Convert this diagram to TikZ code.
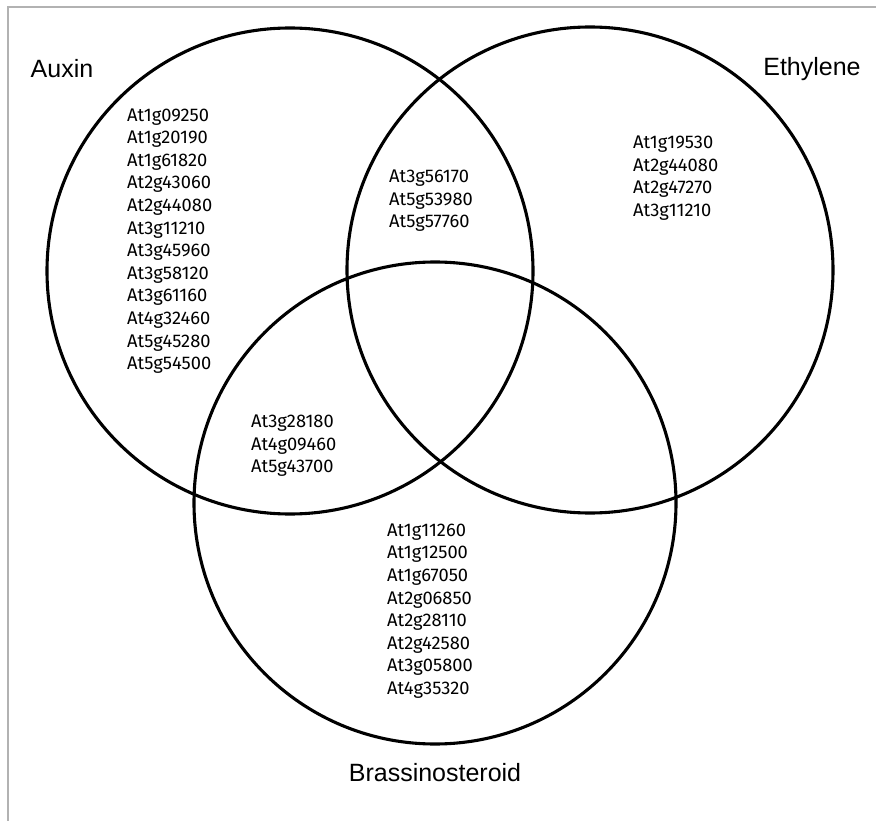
\documentclass[tikz,border=0pt]{standalone}
\usepackage{fontspec}
\setmainfont{Liberation Sans}
\newfontfamily\genefont{Fira Sans}
\begin{document}
\begin{tikzpicture}[x=1pt,y=-1pt,
  setcircle/.style={draw=black,line width=3.1pt},
  genes/.style={align=left,inner sep=0pt,anchor=west,font=\genefont\fontsize{18.3}{22.6}\selectfont},
  setlabel/.style={inner sep=0pt,font=\fontsize{25}{30}\selectfont},
  framerule/.style={draw=black!30,line width=2pt}]
\useasboundingbox (0,0) rectangle (876,821);
\coordinate (fb) at (8,821);
\coordinate (fc) at (8,7);
\coordinate (fr) at (876,7);
\draw[framerule] (fb) -- (fc) -- (fr);
\node[setcircle,circle,minimum size=486pt,inner sep=0pt] (aux) at (290,271) {};
\node[setcircle,circle,minimum size=486pt,inner sep=0pt] (eth) at (590,270) {};
\node[setcircle,circle,minimum size=482pt,inner sep=0pt] (bra) at (435,503) {};
\node[setlabel] (la) at (62,69) {Auxin};
\node[setlabel] (le) at (812,69) {Ethylene};
\node[setlabel] (lb) at (435,773) {Brassinosteroid};
\node[genes] (ga) at (127,241) {At1g09250\\At1g20190\\At1g61820\\At2g43060\\At2g44080\\At3g11210\\At3g45960\\At3g58120\\At3g61160\\At4g32460\\At5g45280\\At5g54500};
\node[genes] (gae) at (389,201) {At3g56170\\At5g53980\\At5g57760};
\node[genes] (ge) at (633,178) {At1g19530\\At2g44080\\At2g47270\\At3g11210};
\node[genes] (gab) at (251,446) {At3g28180\\At4g09460\\At5g43700};
\node[genes] (gb) at (387,611) {At1g11260\\At1g12500\\At1g67050\\At2g06850\\At2g28110\\At2g42580\\At3g05800\\At4g35320};
\end{tikzpicture}
\end{document}
